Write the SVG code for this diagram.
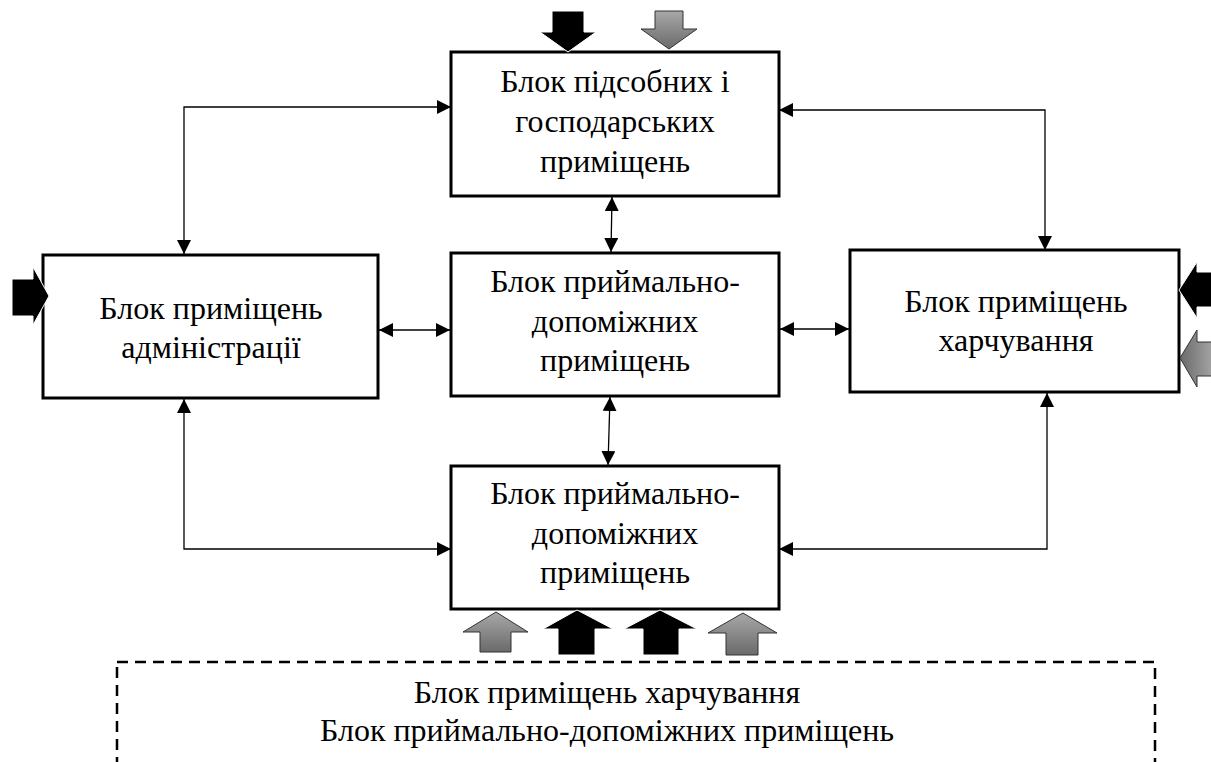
<svg xmlns="http://www.w3.org/2000/svg" width="1211" height="762" viewBox="0 0 1211 762">
<style>
.box{fill:#fff;stroke:#000;stroke-width:3}
.t{font-family:'Liberation Serif','Times New Roman','DejaVu Serif',serif;font-size:32px;fill:#000;text-anchor:middle}
.c{fill:none;stroke:#000;stroke-width:1.3}
.blk{fill:#000;stroke:#fff;stroke-width:1}
.gry{fill:url(#g);stroke:#333;stroke-width:1}
</style>
<defs>
<linearGradient id="g" x1="0" y1="0" x2="0" y2="1"><stop offset="0" stop-color="#a8a8a8"/><stop offset="1" stop-color="#6a6a6a"/></linearGradient>
<linearGradient id="gh" x1="1" y1="0" x2="0" y2="0"><stop offset="0" stop-color="#a8a8a8"/><stop offset="1" stop-color="#6a6a6a"/></linearGradient>
<marker id="a" viewBox="0 0 14 14" refX="14" refY="7" markerWidth="14" markerHeight="14" markerUnits="userSpaceOnUse" orient="auto-start-reverse"><path d="M0,0L14,7L0,14z" fill="#000"/></marker>
</defs>

<g id="connectors">
<path class="c" d="M184,254V107H451" marker-start="url(#a)" marker-end="url(#a)"/>
<path class="c" d="M779,110H1045V250" marker-start="url(#a)" marker-end="url(#a)"/>
<path class="c" d="M612,197L611,252" marker-start="url(#a)" marker-end="url(#a)"/>
<path class="c" d="M379,330H450" marker-start="url(#a)" marker-end="url(#a)"/>
<path class="c" d="M780,329H849" marker-start="url(#a)" marker-end="url(#a)"/>
<path class="c" d="M610,397L608,465" marker-start="url(#a)" marker-end="url(#a)"/>
<path class="c" d="M184,399V549H451" marker-start="url(#a)" marker-end="url(#a)"/>
<path class="c" d="M779,549H1047V393" marker-start="url(#a)" marker-end="url(#a)"/>
</g>

<g id="node-top">
<rect class="box" x="451" y="52" width="328" height="144"/>
<text class="t" font-family="Liberation Serif, serif" x="615" y="92">Блок підсобних і</text>
<text class="t" font-family="Liberation Serif, serif" x="615" y="132">господарських</text>
<text class="t" font-family="Liberation Serif, serif" x="615" y="172">приміщень</text>
</g>
<g id="node-middle">
<rect class="box" x="451" y="253" width="328" height="143"/>
<text class="t" font-family="Liberation Serif, serif" x="615" y="292">Блок приймально-</text>
<text class="t" font-family="Liberation Serif, serif" x="615" y="332">допоміжних</text>
<text class="t" font-family="Liberation Serif, serif" x="615" y="371">приміщень</text>
</g>
<g id="node-bottom">
<rect class="box" x="451" y="466" width="328" height="143"/>
<text class="t" font-family="Liberation Serif, serif" x="615" y="504">Блок приймально-</text>
<text class="t" font-family="Liberation Serif, serif" x="615" y="544">допоміжних</text>
<text class="t" font-family="Liberation Serif, serif" x="615" y="583">приміщень</text>
</g>
<g id="node-left">
<rect class="box" x="43" y="255" width="335" height="143"/>
<text class="t" font-family="Liberation Serif, serif" x="211" y="319">Блок приміщень</text>
<text class="t" font-family="Liberation Serif, serif" x="211" y="358">адміністрації</text>
</g>
<g id="node-right">
<rect class="box" x="850" y="250" width="329" height="142"/>
<text class="t" font-family="Liberation Serif, serif" x="1016" y="312">Блок приміщень</text>
<text class="t" font-family="Liberation Serif, serif" x="1016" y="351">харчування</text>
</g>

<g id="block-arrows">
<path class="blk" d="M552,11H584V32H596L568,52L540,32H552z"/>
<path class="gry" d="M655,11H683V29H697L669,49L641,29H655z"/>
<path class="blk" d="M12,279H33V267L49,296L33,325V316H12z"/>
<path class="blk" d="M1215,272H1197V262L1179,290L1197,318V307H1215z"/>
<path style="fill:url(#gh);stroke:#333;stroke-width:1" d="M1215,342H1197V330L1180,358L1197,387V376H1215z"/>
<path class="gry" d="M480,652V632H463L496,612L528,632H511V652z"/>
<path class="blk" d="M558,655V629H543L577,610L613,629H595V655z"/>
<path class="blk" d="M643,655V629H624L660,610L697,629H679V655z"/>
<path class="gry" d="M726,655V633H708L743,613L777,633H758V655z"/>
</g>

<g id="legend">
<rect x="117" y="662" width="1038" height="140" fill="none" stroke="#000" stroke-width="2.5" stroke-dasharray="11,7"/>
<text class="t" font-family="Liberation Serif, serif" x="607" y="703">Блок приміщень харчування</text>
<text class="t" font-family="Liberation Serif, serif" x="607" y="741">Блок приймально-допоміжних приміщень</text>
</g>
</svg>
